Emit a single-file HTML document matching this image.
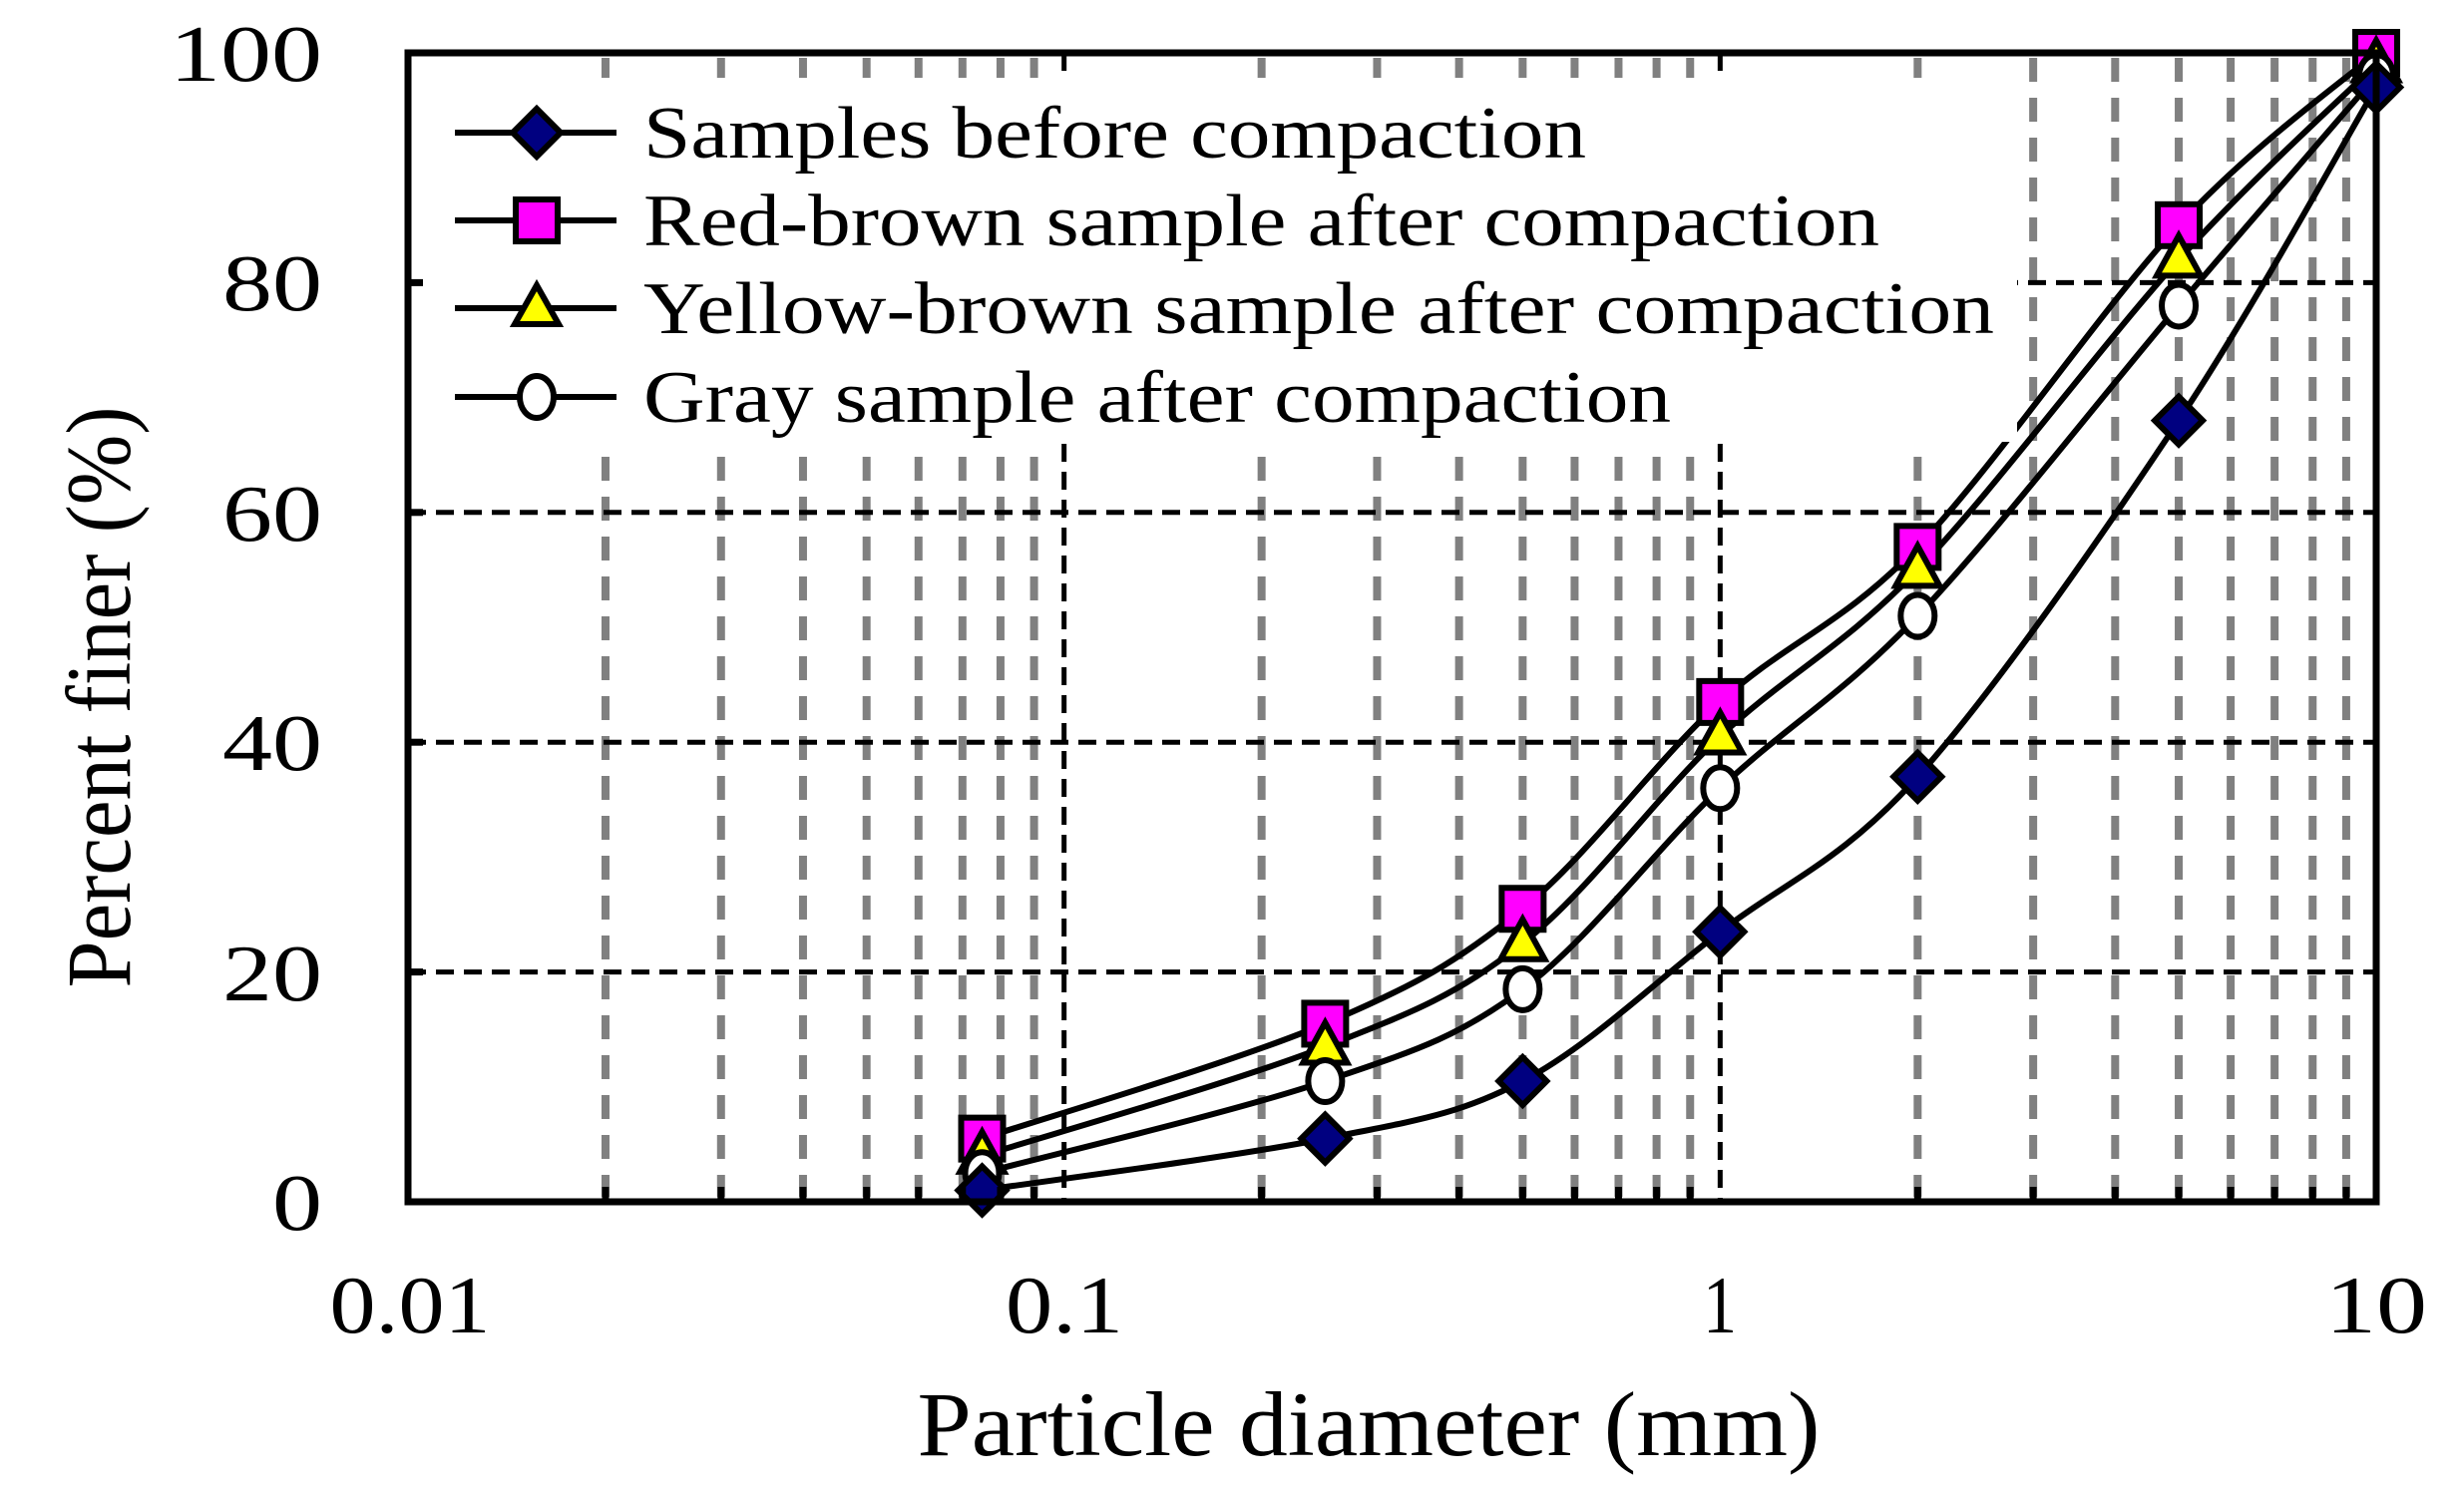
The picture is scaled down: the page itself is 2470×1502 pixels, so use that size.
<!DOCTYPE html>
<html><head><meta charset="utf-8"><style>
html,body{margin:0;padding:0;background:#fff;}
svg{display:block;}
text{font-family:"Liberation Serif",serif;fill:#000;}
</style></head><body>
<svg id="s" width="2470" height="1502" viewBox="0 0 2470 1502" xmlns="http://www.w3.org/2000/svg">
<rect width="2470" height="1502" fill="#fff"/>
<g id="grid"></g>
<g id="curves" fill="none" stroke="#000" stroke-width="6"></g>
<g id="marks" stroke="#000" stroke-width="6"></g>
<rect x="414" y="78" width="1608" height="365" fill="#fff"/>
<rect x="409" y="53" width="1973" height="1152" fill="none" stroke="#000" stroke-width="7"/>
<g id="ticks" stroke="#000" stroke-width="7"></g>
<g font-size="80" text-anchor="end">
<text x="323" y="1233" textLength="50" lengthAdjust="spacingAndGlyphs">0</text>
<text x="323" y="1003" textLength="100" lengthAdjust="spacingAndGlyphs">20</text>
<text x="323" y="772" textLength="100" lengthAdjust="spacingAndGlyphs">40</text>
<text x="323" y="542" textLength="100" lengthAdjust="spacingAndGlyphs">60</text>
<text x="323" y="311" textLength="100" lengthAdjust="spacingAndGlyphs">80</text>
<text x="323" y="81" textLength="153" lengthAdjust="spacingAndGlyphs">100</text>
</g>
<g font-size="82" text-anchor="middle">
<text x="411" y="1336" textLength="161" lengthAdjust="spacingAndGlyphs">0.01</text>
<text x="1067" y="1336" textLength="118" lengthAdjust="spacingAndGlyphs">0.1</text>
<text x="1724" y="1336" textLength="34" lengthAdjust="spacingAndGlyphs">1</text>
<text x="2382" y="1336" textLength="102" lengthAdjust="spacingAndGlyphs">10</text>
</g>
<text x="1372" y="1459" font-size="92" text-anchor="middle" textLength="905" lengthAdjust="spacingAndGlyphs">Particle diameter  (mm)</text>
<text transform="translate(130,699) rotate(-90)" font-size="92" text-anchor="middle" textLength="583" lengthAdjust="spacingAndGlyphs">Percent finer (%)</text>
<g stroke="#000" stroke-width="6">
<line x1="456" y1="133" x2="618" y2="133"/>
<line x1="456" y1="221" x2="618" y2="221"/>
<line x1="456" y1="309" x2="618" y2="309"/>
<line x1="456" y1="398" x2="618" y2="398"/>
<polygon points="538,109 562,133 538,157 514,133" fill="#000080"/>
<rect x="517" y="200" width="42" height="42" fill="#ff00ff"/>
<polygon points="538,286 560,325 516,325" fill="#ffff00"/>
<ellipse cx="538" cy="398" rx="17" ry="21" fill="#fff"/>
</g>
<g font-size="74">
<text x="645" y="158" textLength="945" lengthAdjust="spacingAndGlyphs">Samples before compaction</text>
<text x="645" y="246" textLength="1239" lengthAdjust="spacingAndGlyphs">Red-brown sample after compaction</text>
<text x="645" y="334" textLength="1354" lengthAdjust="spacingAndGlyphs">Yellow-brown  sample after compaction</text>
<text x="645" y="423" textLength="1030" lengthAdjust="spacingAndGlyphs">Gray sample after compaction</text>
</g>
</svg>
<script>
var NS="http://www.w3.org/2000/svg";
function X(v){return 409+(Math.log10(v)+2)*657.67;}
function Y(p){return 1205-p*11.52;}
function el(tag,attrs,parent){var e=document.createElementNS(NS,tag);for(var k in attrs)e.setAttribute(k,attrs[k]);document.getElementById(parent).appendChild(e);return e;}
for(var d=0.01;d<9;d*=10){for(var m=2;m<=9;m++){var x=X(d*m);
 el('line',{x1:x,y1:58,x2:x,y2:1200,stroke:'#808080','stroke-width':8,'stroke-dasharray':'24 16'},'grid');
 el('line',{x1:x,y1:1205,x2:x,y2:1190},'ticks');}}
[0.1,1].forEach(function(v){var x=X(v);el('line',{x1:x,y1:53,x2:x,y2:1205,stroke:'#000','stroke-width':5,'stroke-dasharray':'18 10'},'grid');});
[20,40,60,80].forEach(function(p){var y=Y(p);el('line',{x1:409,y1:y,x2:2382,y2:y,stroke:'#000','stroke-width':5,'stroke-dasharray':'18 10'},'grid');
 el('line',{x1:409,y1:y,x2:424,y2:y},'ticks');});
var xs=[0.075,0.25,0.5,1,2,5,10];
var S=[
 {d:[1,5.5,10.5,23.5,37,68,97],t:'d'},
 {d:[2.5,10.5,18.5,36,51,78,98],t:'o'},
 {d:[4,13.5,22.5,40.5,55,82,99],t:'t'},
 {d:[5.5,15.5,25.5,43.5,57,85,100],t:'s'}];
S.forEach(function(s){
 var P=xs.map(function(v,i){return [X(v),Y(s.d[i])];});
 var path='M'+P[0][0]+','+P[0][1];
 for(var i=0;i<P.length-1;i++){
  var p0=P[Math.max(i-1,0)],p1=P[i],p2=P[i+1],p3=P[Math.min(i+2,P.length-1)];
  var t=1/6;
  var c1=[p1[0]+(p2[0]-p0[0])*t,p1[1]+(p2[1]-p0[1])*t];
  var c2=[p2[0]-(p3[0]-p1[0])*t,p2[1]-(p3[1]-p1[1])*t];
  path+=' C'+c1+' '+c2+' '+p2;
 }
 el('path',{d:path},'curves');
});
var order=[S[3],S[2],S[1],S[0]];
order.forEach(function(s){
 xs.forEach(function(v,i){var x=X(v),y=Y(s.d[i]);
  if(s.t=='d')el('polygon',{points:(x)+','+(y-24)+' '+(x+24)+','+y+' '+x+','+(y+24)+' '+(x-24)+','+y,fill:'#000080'},'marks');
  if(s.t=='s')el('rect',{x:x-21,y:y-21,width:42,height:42,fill:'#ff00ff'},'marks');
  if(s.t=='t')el('polygon',{points:x+','+(y-24)+' '+(x+22)+','+(y+16)+' '+(x-22)+','+(y+16),fill:'#ffff00'},'marks');
  if(s.t=='o')el('ellipse',{cx:x,cy:y,rx:17,ry:21,fill:'#fff'},'marks');
 });
});
</script>
</body></html>
